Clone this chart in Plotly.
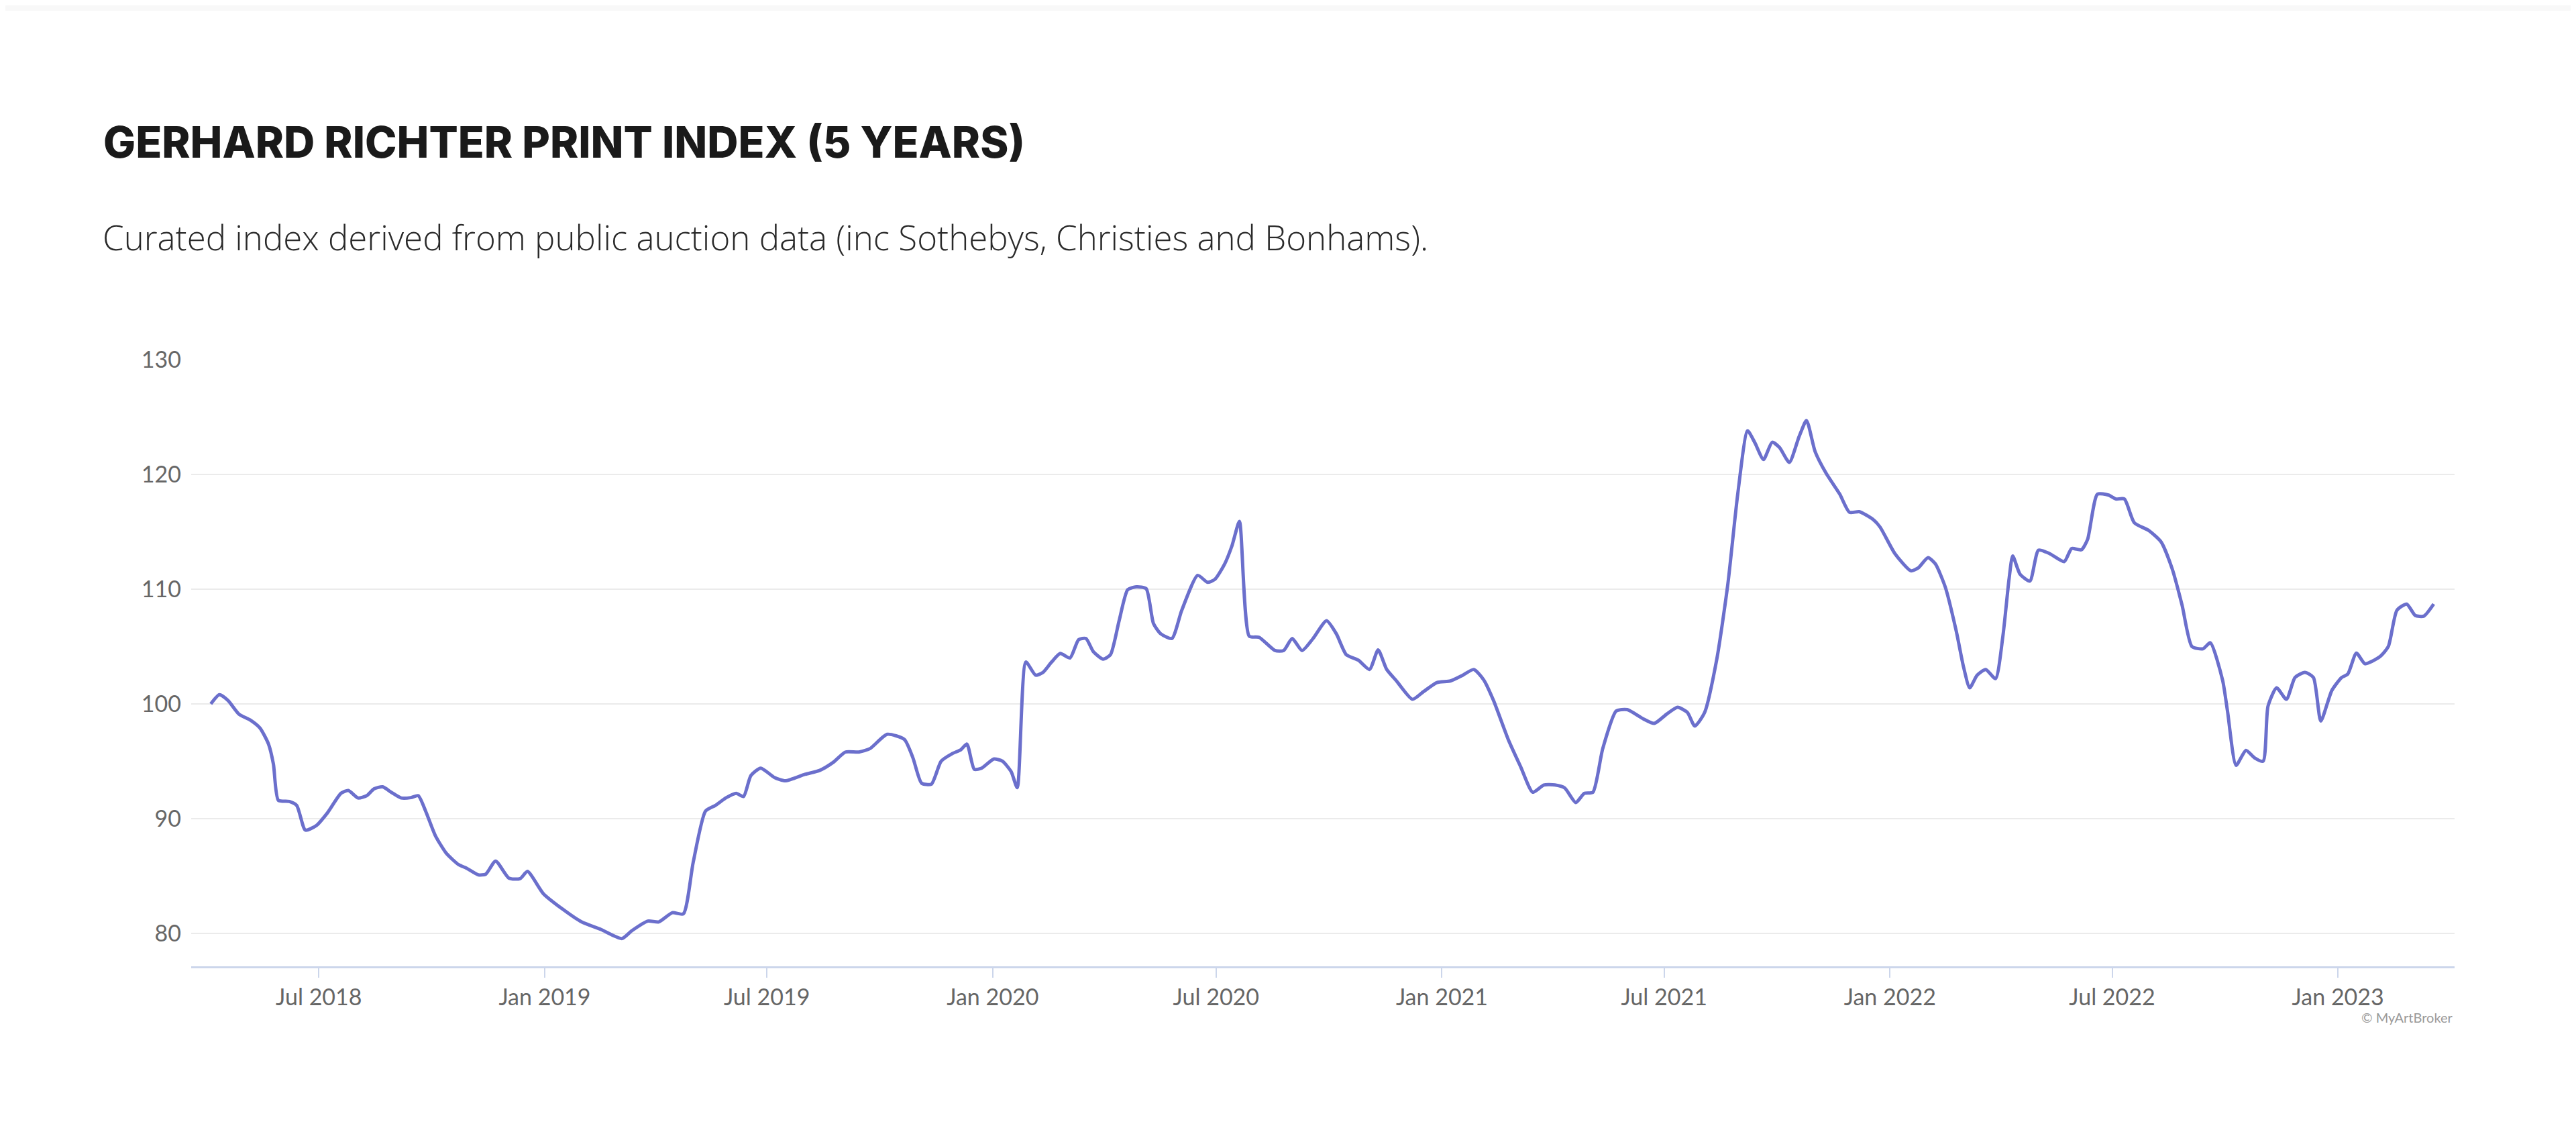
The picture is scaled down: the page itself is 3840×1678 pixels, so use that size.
import plotly.graph_objects as go

# index values
dates = [
    "2018-04-04", "2018-04-11", "2018-04-18", "2018-04-27", "2018-05-06", "2018-05-14",
    "2018-05-21", "2018-05-25", "2018-05-29", "2018-06-07", "2018-06-13", "2018-06-20",
    "2018-06-29", "2018-07-08", "2018-07-19", "2018-07-25", "2018-08-02", "2018-08-09",
    "2018-08-15", "2018-08-22", "2018-08-29", "2018-09-06", "2018-09-14", "2018-09-20",
    "2018-09-26", "2018-10-04", "2018-10-13", "2018-10-23", "2018-10-29", "2018-11-08",
    "2018-11-14", "2018-11-22", "2018-12-03", "2018-12-12", "2018-12-18", "2018-12-31",
    "2019-01-16", "2019-01-31", "2019-02-16", "2019-03-05", "2019-03-13", "2019-03-26",
    "2019-04-04", "2019-04-15", "2019-04-24", "2019-05-02", "2019-05-12", "2019-05-20",
    "2019-05-29", "2019-06-06", "2019-06-12", "2019-06-18", "2019-06-26", "2019-07-07",
    "2019-07-16", "2019-08-01", "2019-08-13", "2019-08-24", "2019-09-03", "2019-09-14",
    "2019-09-23", "2019-10-07", "2019-10-21", "2019-10-28", "2019-11-04", "2019-11-12",
    "2019-11-20", "2019-11-29", "2019-12-06", "2019-12-11", "2019-12-17", "2019-12-23",
    "2020-01-02", "2020-01-09", "2020-01-16", "2020-01-21", "2020-01-28", "2020-02-05",
    "2020-02-11", "2020-02-18", "2020-02-25", "2020-03-04", "2020-03-11", "2020-03-17",
    "2020-03-23", "2020-03-31", "2020-04-06", "2020-04-13", "2020-04-20", "2020-04-27",
    "2020-05-05", "2020-05-11", "2020-05-17", "2020-05-26", "2020-06-03", "2020-06-16",
    "2020-06-24", "2020-06-30", "2020-07-08", "2020-07-14", "2020-07-20", "2020-07-28",
    "2020-08-05", "2020-08-18", "2020-08-25", "2020-09-01", "2020-09-09", "2020-09-18",
    "2020-09-29", "2020-10-07", "2020-10-15", "2020-10-25", "2020-11-03", "2020-11-10",
    "2020-11-17", "2020-11-25", "2020-12-08", "2020-12-17", "2020-12-28", "2021-01-08",
    "2021-01-18", "2021-01-27", "2021-02-04", "2021-02-12", "2021-02-24", "2021-03-06",
    "2021-03-16", "2021-03-25", "2021-04-03", "2021-04-11", "2021-04-20", "2021-04-27",
    "2021-05-04", "2021-05-12", "2021-05-23", "2021-06-01", "2021-06-14", "2021-06-23",
    "2021-07-03", "2021-07-12", "2021-07-20", "2021-07-26", "2021-08-03", "2021-08-13",
    "2021-08-22", "2021-08-30", "2021-09-07", "2021-09-13", "2021-09-20", "2021-09-27",
    "2021-10-03", "2021-10-11", "2021-10-19", "2021-10-25", "2021-11-01", "2021-11-10",
    "2021-11-21", "2021-11-29", "2021-12-07", "2021-12-18", "2021-12-24", "2022-01-05",
    "2022-01-18", "2022-01-24", "2022-02-01", "2022-02-07", "2022-02-15", "2022-02-24",
    "2022-03-02", "2022-03-07", "2022-03-13", "2022-03-20", "2022-03-28", "2022-04-03",
    "2022-04-08", "2022-04-11", "2022-04-17", "2022-04-25", "2022-05-02", "2022-05-11",
    "2022-05-23", "2022-05-29", "2022-06-06", "2022-06-11", "2022-06-19", "2022-06-28",
    "2022-07-04", "2022-07-11", "2022-07-19", "2022-07-31", "2022-08-10", "2022-08-19",
    "2022-08-27", "2022-09-04", "2022-09-13", "2022-09-19", "2022-09-29", "2022-10-03",
    "2022-10-10", "2022-10-18", "2022-10-25", "2022-11-01", "2022-11-05", "2022-11-12",
    "2022-11-20", "2022-11-27", "2022-12-05", "2022-12-12", "2022-12-18", "2022-12-27",
    "2023-01-04", "2023-01-09", "2023-01-16", "2023-01-23", "2023-02-04", "2023-02-11",
    "2023-02-18", "2023-02-26", "2023-03-05", "2023-03-12", "2023-03-20",
]

index_values = [
    100.0, 100.8, 100.3, 99.1, 98.6, 97.9,
    96.5, 94.75, 91.6, 91.5, 91.15, 89.0,
    89.4, 90.5, 92.2, 92.45, 91.8, 92.0,
    92.6, 92.77, 92.3, 91.8, 91.83, 92.0,
    90.66, 88.5, 86.96, 85.98, 85.7, 85.1,
    85.16, 86.3, 84.8, 84.77, 85.4, 83.45,
    82.08, 81.0, 80.33, 79.55, 80.23, 81.07,
    81.0, 81.8, 81.7, 86.2, 90.66, 91.15,
    91.83, 92.2, 91.93, 93.75, 94.4, 93.6,
    93.3, 93.86, 94.2, 94.9, 95.8, 95.8,
    96.1, 97.35, 96.9, 95.3, 93.1, 93.0,
    95.0, 95.66, 96.0, 96.5, 94.3, 94.4,
    95.2, 95.0, 94.1, 92.7, 103.65, 102.5,
    102.75, 103.65, 104.4, 104.0, 105.6, 105.7,
    104.55, 103.9, 104.3, 107.25, 109.95, 110.2,
    110.05, 107.0, 106.1, 105.7, 108.15, 111.2,
    110.6, 110.85, 112.2, 113.8, 115.9, 105.9,
    105.8, 104.65, 104.65, 105.7, 104.65, 105.7,
    107.25, 106.1, 104.3, 103.8, 103.0, 104.7,
    103.0, 102.0, 100.4, 101.07, 101.86, 102.0,
    102.5, 103.0, 102.1, 100.3, 96.9, 94.55,
    92.3, 92.93, 92.93, 92.67, 91.4, 92.2,
    92.3, 96.1, 99.38, 99.5, 98.7, 98.3,
    99.1, 99.7, 99.25, 98.07, 99.25, 103.95,
    110.5, 118.3, 123.8, 122.75, 121.3, 122.8,
    122.35, 121.05, 123.3, 124.7, 122.0, 120.1,
    118.3, 116.7, 116.75, 116.1, 115.4, 113.1,
    111.6, 111.85, 112.75, 112.2, 110.2, 106.35,
    103.2, 101.4, 102.5, 103.0, 102.2, 105.9,
    110.85, 112.9, 111.3, 110.7, 113.4, 113.1,
    112.4, 113.54, 113.43, 114.33, 118.27, 118.2,
    117.86, 117.86, 115.8, 115.1, 114.1, 111.75,
    108.6, 105.0, 104.8, 105.33, 102.07, 99.37,
    94.65, 95.95, 95.3, 95.0, 99.8, 101.4,
    100.4, 102.3, 102.75, 102.3, 98.5, 101.17,
    102.3, 102.6, 104.43, 103.5, 104.1, 105.0,
    108.15, 108.7, 107.7, 107.65, 108.7,
]

tick_dates = ["2018-07-01", "2019-01-01", "2019-07-01", "2020-01-01", "2020-07-01",
              "2021-01-01", "2021-07-01", "2022-01-01", "2022-07-01", "2023-01-01"]
tick_labels = ["Jul 2018", "Jan 2019", "Jul 2019", "Jan 2020", "Jul 2020",
               "Jan 2021", "Jul 2021", "Jan 2022", "Jul 2022", "Jan 2023"]
y_ticks = [80, 90, 100, 110, 120, 130]

TITLE = "GERHARD RICHTER PRINT INDEX (5 YEARS)"
SUBTITLE = "Curated index derived from public auction data (inc Sothebys, Christies and Bonhams)."

# plot area in page pixels
L, R, T, B = 277, 3651, 528, 1432
PW, PH = R - L, B - T

fig = go.Figure()
fig.add_trace(
    go.Scatter(
        x=dates,
        y=index_values,
        mode="lines",
        line=dict(color="#6b6fcc", width=5, shape="spline", smoothing=0.6),
        name="Index",
        hoverinfo="x+y",
    )
)

fig.update_layout(
    width=3840,
    height=1678,
    template="plotly_white",
    paper_bgcolor="white",
    plot_bgcolor="white",
    showlegend=False,
    margin=dict(l=L, r=3840 - R, t=T, b=1678 - B),
    font=dict(family="Lato, sans-serif", color="#666666"),
    title=dict(
        text=TITLE,
        xref="container",
        x=146 / 3840,
        xanchor="left",
        yref="container",
        y=1 - 205 / 1678,
        yanchor="middle",
        font=dict(family="Inter, Lato, sans-serif", size=64, color="#1a1a1a", weight=800),
    ),
)

fig.update_xaxes(
    type="date",
    range=["2018-03-19", "2023-04-06"],
    tickvals=tick_dates,
    ticktext=tick_labels,
    showgrid=False,
    zeroline=False,
    showline=True,
    linecolor="#ccd6eb",
    linewidth=3,
    ticks="outside",
    ticklen=14,
    tickwidth=2,
    tickcolor="#ccd6eb",
    tickfont=dict(size=34, color="#666666"),
)

fig.update_yaxes(
    range=[77.13, 130],
    tickvals=y_ticks,
    showgrid=True,
    gridcolor="#ebebeb",
    gridwidth=2,
    zeroline=False,
    showline=False,
    ticks="",
    ticklabelstandoff=14,
    tickfont=dict(size=34, color="#666666"),
)

fig.add_annotation(
    text=SUBTITLE,
    xref="paper", yref="paper",
    x=(143 - L) / PW, y=(B - 345) / PH,
    xanchor="left", yanchor="middle",
    showarrow=False,
    font=dict(family="Open Sans, sans-serif", size=51, color="#2a2a2a", weight=300),
)
fig.add_annotation(
    text="© MyArtBroker",
    xref="paper", yref="paper",
    x=1, y=(B - 1508) / PH,
    xanchor="right", yanchor="middle",
    showarrow=False,
    font=dict(family="Lato, sans-serif", size=20, color="#999999"),
)

# light strip along the top edge of the page
fig.add_shape(
    type="rect",
    xref="paper", yref="paper",
    x0=-L / PW, x1=(3840 - L) / PW,
    y0=(B - 8) / PH, y1=B / PH,
    line=dict(width=0),
    fillcolor="#f8f8f8",
    layer="below",
)

fig.write_html("out.html")
